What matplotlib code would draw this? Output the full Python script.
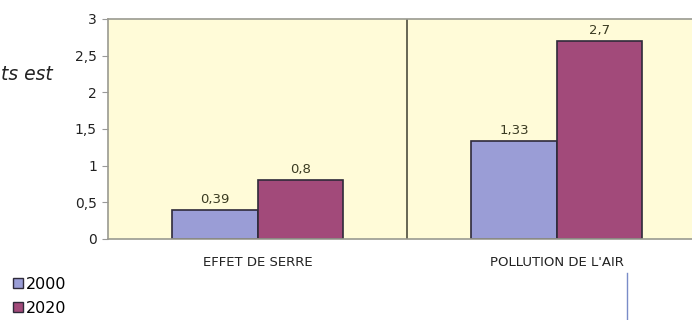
import numpy as np
import matplotlib.pyplot as plt

# Data
categories = ["EFFET DE SERRE", "POLLUTION DE L'AIR"]
series_names = ["2000", "2020"]
values_2000 = [0.39, 1.33]
values_2020 = [0.8, 2.7]
value_labels_2000 = ["0,39", "1,33"]
value_labels_2020 = ["0,8", "2,7"]
y_ticks = [0, 0.5, 1, 1.5, 2, 2.5, 3]
y_tick_labels = ["0", "0,5", "1", "1,5", "2", "2,5", "3"]

blue = "#9a9dd6"
red = "#a24a7a"
edge = "#2f2a3a"
label_col = "#3b3b22"

fig = plt.figure(figsize=(6.92, 3.2), dpi=100)
fig.patch.set_facecolor("white")

# plot area runs past the right edge (the scan is cropped)
ax = fig.add_axes([108 / 692, 1 - 239 / 320, 598 / 692, 220 / 320])
ax.set_facecolor("#fffbd8")

x = np.arange(len(categories))
w = 0.285
b1 = ax.bar(x - w / 2, values_2000, w, color=blue, edgecolor=edge, linewidth=1.2, label=series_names[0])
b2 = ax.bar(x + w / 2, values_2020, w, color=red, edgecolor=edge, linewidth=1.2, label=series_names[1])

for rect, txt in zip(b1, value_labels_2000):
    ax.text(rect.get_x() + rect.get_width() / 2, rect.get_height() + 0.06, txt,
            ha="center", va="bottom", fontsize=9.5, color=label_col)
for rect, txt in zip(b2, value_labels_2020):
    ax.text(rect.get_x() + rect.get_width() / 2, rect.get_height() + 0.06, txt,
            ha="center", va="bottom", fontsize=9.5, color=label_col)

ax.set_xlim(-0.5, 1.5)
ax.set_ylim(0, 3)
ax.axvline(0.5, color="#5a5a4a", linewidth=1.3)

ax.set_yticks(y_ticks)
ax.set_yticklabels(y_tick_labels, fontsize=10, color="#222222")
ax.set_xticks(x)
ax.set_xticklabels(categories, fontsize=9.5, color="#222222")
ax.tick_params(axis="y", length=4.5, color="#999999", pad=3.5)
ax.tick_params(axis="x", length=0, pad=12.5)

for side in ["left", "top", "bottom", "right"]:
    ax.spines[side].set_color("#9a9a90")
    ax.spines[side].set_linewidth(1.2)

# cropped text from the page
fig.text(53 / 692, 1 - 75 / 320, "ts est", ha="right", va="center",
         fontsize=13.5, style="italic", color="#222222")

# legend, bottom left
handles = [plt.Rectangle((0, 0), 1, 1, facecolor=blue, edgecolor=edge, linewidth=1),
           plt.Rectangle((0, 0), 1, 1, facecolor=red, edgecolor=edge, linewidth=1)]
fig.legend(handles, series_names, loc="upper left", bbox_to_anchor=(13 / 692, 1 - 277 / 320),
           frameon=False, fontsize=11.5, handlelength=0.6, handleheight=0.6,
           handletextpad=0.2, labelspacing=0.55, borderaxespad=0, borderpad=0)

# stray connector line on the page
fig.add_artist(plt.Line2D([627 / 692, 627 / 692], [1 - 273 / 320, 0], color="#7a8cc8", linewidth=1))

fig.savefig("out.png", dpi=100)
